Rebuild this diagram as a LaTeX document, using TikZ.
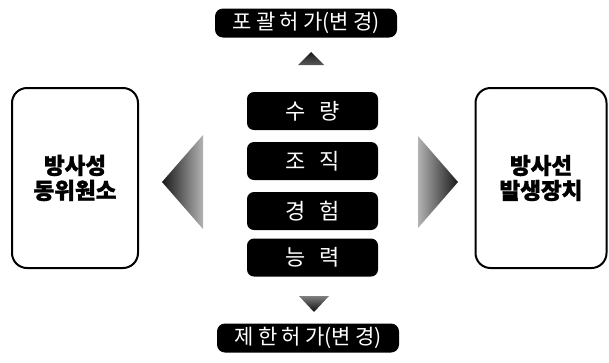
\documentclass[tikz,border=0pt]{standalone}
\usepackage{fontspec}
\setmainfont{Noto Sans CJK KR}
\newfontfamily\heavyfont{Noto Sans CJK KR}[BoldFeatures={FakeBold=1.6}]
\newcommand{\gap}{\hspace{0.2em}}
\begin{document}
\begin{tikzpicture}[x=1pt,y=-1pt,
  pill/.style={fill=black, rounded corners=7pt, minimum width=131pt, minimum height=38pt,
    text=white, inner sep=0pt, font=\fontsize{22}{22}\selectfont},
  headbox/.style={fill=black, rounded corners=8pt, minimum width=182pt, minimum height=29pt,
    text=white, inner sep=0pt, font=\fontsize{21}{21}\selectfont},
  sidebox/.style={draw=black, line width=2pt, rounded corners=15pt, minimum width=126pt,
    minimum height=180pt, align=center, inner sep=0pt,
    font=\heavyfont\fontsize{22.5}{25}\selectfont\bfseries}]
\useasboundingbox (0,0) rectangle (609,362);

% licence types, top and bottom
\node[headbox] (top) at (306,23) {포\gap 괄\gap 허\gap 가(변\gap 경)};
\node[headbox] (bottom) at (308,338) {제\gap 한\gap 허\gap 가(변\gap 경)};

% the two side boxes
\node[sidebox] (iso) at (75,178) {방사성\\동위원소};
\node[sidebox, minimum width=131pt] (gen) at (541,178) {방사선\\발생장치};

% the four requirements in the middle
\node[pill] (r1) at (312.5,111) {수\hspace{0.65em}량};
\node[pill] (r2) at (312.5,161) {조\hspace{0.65em}직};
\node[pill] (r3) at (312.5,211) {경\hspace{0.65em}험};
\node[pill] (r4) at (312.5,257.5) {능\hspace{0.65em}력};

% pointers from the middle column
\coordinate (lA) at (162,182);
\coordinate (rA) at (458,182);
\coordinate (uA) at (311,52);
\coordinate (dA) at (314,312);
\shade[left color=black!90, right color=black!30]
  (lA) -- (203,135) -- (203,229) -- cycle;
\shade[left color=black!30, right color=black!90]
  (rA) -- (418,228) -- (418,136) -- cycle;
\shade[top color=black!90, bottom color=black!65]
  (uA) -- (298,65) -- (324,65) -- cycle;
\shade[top color=black!50, bottom color=black!95]
  (dA) -- (299,296) -- (329,296) -- cycle;
\end{tikzpicture}
\end{document}
